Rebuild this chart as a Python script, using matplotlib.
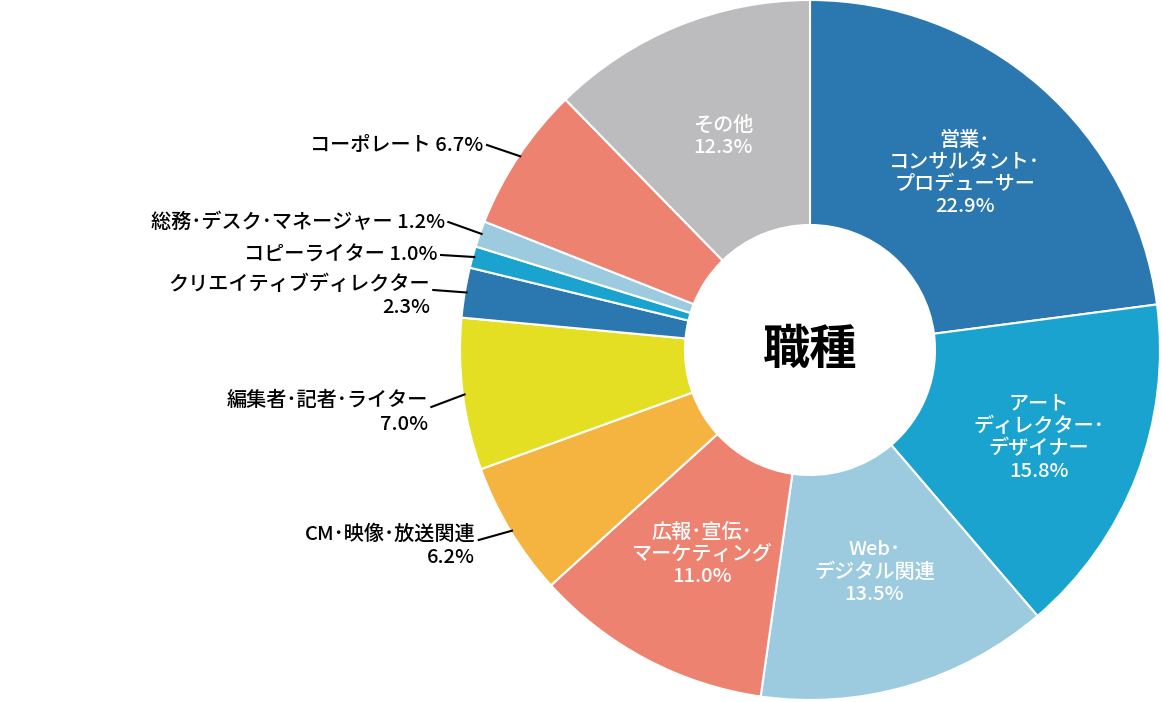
import matplotlib.pyplot as plt
import numpy as np

plt.rcParams['font.family'] = ['Noto Sans CJK JP', 'DejaVu Sans']

labels = ['営業･\nコンサルタント･\nプロデューサー', 'アート\nディレクター･\nデザイナー', 'Web･\nデジタル関連',
          '広報･宣伝･\nマーケティング', 'CM･映像･放送関連', '編集者･記者･ライター', 'クリエイティブディレクター',
          'コピーライター', '総務･デスク･マネージャー', 'コーポレート', 'その他']
values = [22.9, 15.8, 13.5, 11.0, 6.2, 7.0, 2.3, 1.0, 1.2, 6.7, 12.3]
colors = ['#2b77b0', '#1ba3d0', '#9ccbe0', '#ee8270', '#f5b340', '#e5df23',
          '#2b77b0', '#1ba3d0', '#9ccbe0', '#ee8270', '#bcbcbe']
inside = [True, True, True, True, False, False, False, False, False, False, True]
# outside label anchors (pixel y of leader end)
outside_y = {4: 540, 5: 407, 6: 290, 7: 255, 8: 222, 9: 145}
two_line = {4, 5, 6}

R = 350.0
cx, cy = 810, 350
fig = plt.figure(figsize=(11.62, 7.02), dpi=100)
ax = fig.add_axes([0, 0, 1, 1])

wedges, _ = ax.pie(values, colors=colors, startangle=90, counterclock=False, radius=1,
                   wedgeprops=dict(width=1 - 125 / R, linewidth=1.5, edgecolor='white'))
ax.set_xlim(-cx / R, (1162 - cx) / R)
ax.set_ylim(-(702 - cy) / R, cy / R)
ax.set_aspect('equal')
ax.axis('off')

rin = {0: 0.67, 1: 0.7, 2: 0.66, 3: 0.66, 10: 0.66}
for i, w in enumerate(wedges):
    mid = np.deg2rad((w.theta1 + w.theta2) / 2)
    if inside[i]:
        r = rin[i]
        ax.text(r * np.cos(mid), r * np.sin(mid), f'{labels[i]}\n{values[i]}%',
                ha='center', va='center', color='white', fontsize=14.5, linespacing=1.2,
                fontweight='medium')
    else:
        x0, y0 = np.cos(mid), np.sin(mid)
        ty = (cy - outside_y[i]) / R
        tx = x0 - 0.09
        ax.plot([x0 + 0.005, tx], [y0, ty], color='black', lw=1.5)
        if i in two_line:
            ax.text(tx - 0.01, ty + 0.045, f'{labels[i]}\n{values[i]}%', ha='right', va='top',
                    fontsize=14.5, linespacing=1.3, fontweight='medium')
        else:
            ax.text(tx - 0.01, ty, f'{labels[i]} {values[i]}%', ha='right', va='center',
                    fontsize=14.5, fontweight='medium')

ax.text(0, 0, '職種', ha='center', va='center', fontsize=34, fontweight='bold')
fig.savefig('out.png', dpi=100)
